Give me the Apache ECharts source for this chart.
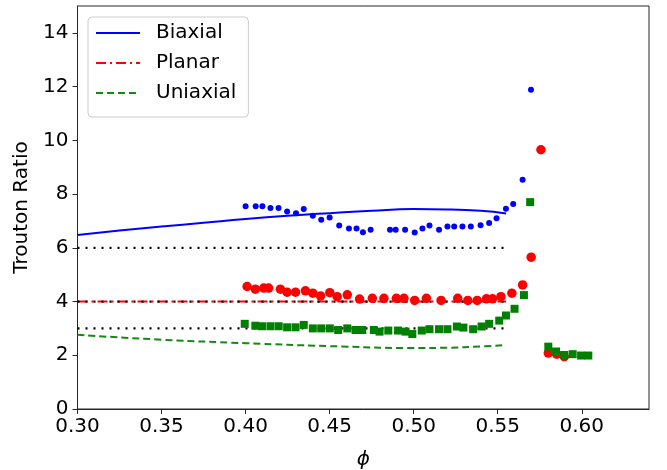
<!DOCTYPE html>
<html>
<head>
<meta charset="utf-8">
<script src="https://cdn.jsdelivr.net/npm/echarts@6/dist/echarts.min.js"></script>
<style>
  html, body { margin: 0; padding: 0; background: #fff; }
  #chart { width: 667px; height: 470px; }
</style>
</head>
<body>
<div id="chart"></div>
<script>
// Axis ticks
const xTicks = [0.30, 0.35, 0.40, 0.45, 0.50, 0.55, 0.60];
const yTicks = [0, 2, 4, 6, 8, 10, 12, 14];

// Model curves
const biaxModelPhi = [0.30, 0.325, 0.35, 0.375, 0.40, 0.425, 0.45, 0.475, 0.50, 0.52, 0.54, 0.555];
const biaxModelTR  = [6.48, 6.64, 6.79, 6.93, 7.07, 7.19, 7.29, 7.38, 7.44, 7.43, 7.38, 7.28];
const planModelPhi = [0.30, 0.555];
const planModelTR  = [4.0, 4.0];
const uniModelPhi  = [0.30, 0.35, 0.40, 0.45, 0.50, 0.52, 0.54, 0.555];
const uniModelTR   = [2.76, 2.58, 2.45, 2.34, 2.27, 2.28, 2.33, 2.38];

// Newtonian reference levels (dotted)
const refLevels = [6, 4, 3];
const refPhiRange = [0.30, 0.5537];

// Measured Trouton ratios
const biaxPhi = [0.400, 0.406, 0.410, 0.4148, 0.4196, 0.4247, 0.430, 0.4346, 0.440, 0.445, 0.450, 0.4557,
  0.4615, 0.466, 0.4698, 0.4744, 0.4859, 0.4893, 0.4949, 0.5006, 0.5052, 0.5094, 0.5151, 0.5201, 0.5241,
  0.529, 0.534, 0.5398, 0.5449, 0.5493, 0.5549, 0.5592, 0.5648, 0.5698];
const biaxTR = [7.55, 7.55, 7.55, 7.48, 7.48, 7.35, 7.29, 7.44, 7.19, 7.04, 7.13, 6.83,
  6.72, 6.72, 6.58, 6.67, 6.67, 6.67, 6.67, 6.57, 6.72, 6.83, 6.67, 6.79, 6.79,
  6.79, 6.79, 6.84, 6.92, 7.10, 7.45, 7.63, 8.53, 11.88];

const planPhi = [0.4009, 0.4058, 0.4108, 0.4137, 0.4207, 0.4247, 0.4297, 0.4356, 0.440, 0.4446, 0.4501,
  0.4545, 0.4605, 0.4678, 0.4754, 0.4823, 0.4897, 0.4942, 0.5006, 0.5076, 0.5163, 0.5262, 0.5322, 0.5378,
  0.5433, 0.5469, 0.5519, 0.5584, 0.5648, 0.5699, 0.5757, 0.5801, 0.5851, 0.5896];
const planTR = [4.56, 4.46, 4.50, 4.50, 4.46, 4.35, 4.35, 4.40, 4.31, 4.21, 4.33,
  4.18, 4.25, 4.09, 4.12, 4.12, 4.12, 4.12, 4.04, 4.12, 4.04, 4.12, 4.04, 4.04,
  4.10, 4.10, 4.18, 4.31, 4.62, 5.65, 9.65, 2.08, 2.04, 1.95];

const uniPhi = [0.3995, 0.4058, 0.4098, 0.4148, 0.4197, 0.4247, 0.4297, 0.4346, 0.440, 0.445, 0.4501,
  0.4551, 0.4605, 0.4654, 0.4694, 0.4763, 0.4797, 0.4849, 0.4907, 0.4952, 0.4992, 0.5048, 0.5094, 0.5151,
  0.5201, 0.5257, 0.5296, 0.5354, 0.5404, 0.5449, 0.5509, 0.5549, 0.5600, 0.5656, 0.5693, 0.5801, 0.5847,
  0.5896, 0.5946, 0.5996, 0.6039];
const uniTR = [3.17, 3.10, 3.08, 3.08, 3.08, 3.04, 3.04, 3.13, 3.00, 3.00, 3.00,
  2.94, 3.00, 2.94, 2.94, 2.94, 2.88, 2.92, 2.92, 2.88, 2.79, 2.92, 2.97, 2.97,
  2.97, 3.07, 3.03, 2.97, 3.07, 3.17, 3.29, 3.48, 3.73, 4.24, 7.70, 2.32, 2.14,
  2.01, 2.04, 1.99, 1.99];

const zip = (xs, ys) => xs.map((x, i) => [x, ys[i]]);
const FONT = 'DejaVu Sans';
const AXIS_COLOR = '#262626';

const chart = echarts.init(document.getElementById('chart'), null, { renderer: 'canvas' });

const refSeries = refLevels.map(level => ({
  name: 'ref' + level,
  type: 'line',
  data: refPhiRange.map(p => [p, level]),
  symbol: 'none',
  silent: true,
  z: 3,
  lineStyle: { color: '#000', width: 2.2, type: [2, 6], cap: 'butt' }
}));

chart.setOption({
  animation: false,
  textStyle: { fontFamily: FONT },
  grid: {
    left: 77.5, right: 18, top: 6, bottom: 61,
    containLabel: false, outerBoundsMode: 'none',
    show: true, borderColor: AXIS_COLOR, borderWidth: 1, backgroundColor: 'transparent'
  },
  legend: {
    data: ['Biaxial', 'Planar', 'Uniaxial'],
    orient: 'vertical',
    left: 88, top: 17,
    itemWidth: 44, itemHeight: 20, itemGap: 10,
    padding: [6, 12, 14, 7],
    backgroundColor: 'rgba(255,255,255,0.8)',
    borderColor: '#cccccc', borderWidth: 1, borderRadius: 4,
    // only the line sample is shown for each model, no marker
    itemStyle: { opacity: 0, color: 'transparent', borderWidth: 0 },
    textStyle: { fontFamily: FONT, fontSize: 20, color: '#000', padding: [0, 0, 0, 11] }
  },
  xAxis: {
    type: 'value', min: 0.30, max: 0.64,
    name: 'ϕ', nameLocation: 'middle', nameGap: 41,
    nameTextStyle: { fontFamily: FONT, fontSize: 20, fontStyle: 'italic', color: '#000' },
    axisLine: { show: true, onZero: false, lineStyle: { color: AXIS_COLOR, width: 1 } },
    axisTick: { show: true, inside: false, length: 5, customValues: xTicks, lineStyle: { color: AXIS_COLOR } },
    axisLabel: { customValues: xTicks, margin: 8, fontSize: 20, color: '#000', fontFamily: FONT,
      formatter: v => v.toFixed(2) },
    splitLine: { show: false }
  },
  yAxis: {
    type: 'value', min: 0, max: 15,
    name: 'Trouton Ratio', nameLocation: 'middle', nameGap: 35,
    nameTextStyle: { fontFamily: FONT, fontSize: 20, color: '#000' },
    axisLine: { show: true, onZero: false, lineStyle: { color: AXIS_COLOR, width: 1 } },
    axisTick: { show: true, inside: false, length: 5, customValues: yTicks, lineStyle: { color: AXIS_COLOR } },
    axisLabel: { customValues: yTicks, margin: 9, fontSize: 20, color: '#000', fontFamily: FONT },
    splitLine: { show: false }
  },
  series: [
    {
      name: 'Biaxial', type: 'line', data: zip(biaxModelPhi, biaxModelTR), smooth: true,
      symbol: 'none', z: 2, lineStyle: { color: '#0000ff', width: 2 }, itemStyle: { color: '#0000ff' }
    },
    {
      name: 'Planar', type: 'line', data: zip(planModelPhi, planModelTR),
      symbol: 'none', z: 2, lineStyle: { color: '#ff0000', width: 2, type: [10, 4, 2, 4] }, itemStyle: { color: '#ff0000' }
    },
    {
      name: 'Uniaxial', type: 'line', data: zip(uniModelPhi, uniModelTR), smooth: true,
      symbol: 'none', z: 2, lineStyle: { color: '#138a13', width: 2, type: [7, 4] }, itemStyle: { color: '#138a13' }
    },
    ...refSeries,
    {
      name: 'Biaxial data', type: 'scatter', data: zip(biaxPhi, biaxTR),
      symbol: 'circle', symbolSize: 6, z: 5, itemStyle: { color: '#0000ff', opacity: 1 }
    },
    {
      name: 'Planar data', type: 'scatter', data: zip(planPhi, planTR),
      symbol: 'circle', symbolSize: 9.5, z: 5, itemStyle: { color: '#ff0000', opacity: 1 }
    },
    {
      name: 'Uniaxial data', type: 'scatter', data: zip(uniPhi, uniTR),
      symbol: 'rect', symbolSize: 8, z: 5, itemStyle: { color: '#008000', opacity: 1 }
    }
  ]
});
</script>
</body>
</html>
